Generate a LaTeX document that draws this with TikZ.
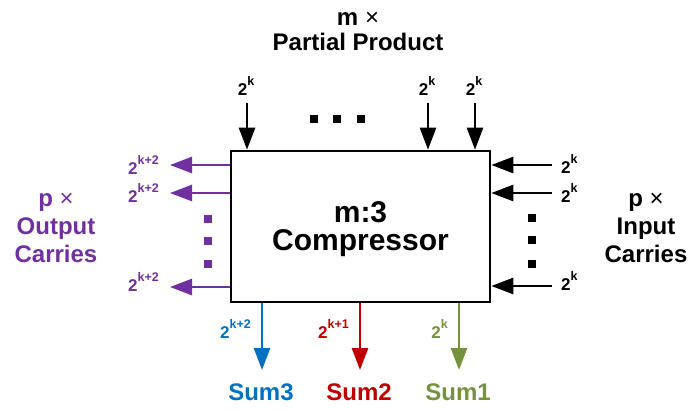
\documentclass[tikz,border=0pt]{standalone}
\usepackage{fontspec}
\setmainfont{Liberation Sans}
\usetikzlibrary{arrows.meta,positioning}
\definecolor{carrypurple}{HTML}{7030A0}
\definecolor{sumblue}{HTML}{0070C0}
\definecolor{sumred}{HTML}{C00000}
\definecolor{sumgreen}{HTML}{76923C}
\newcommand{\pwr}[1]{2\raisebox{9.5pt}{\fontsize{12.5}{12.5}\selectfont #1}}
\tikzset{
  compbox/.style={draw, line width=2.6pt, minimum width=259pt, minimum height=151pt, align=center, text depth=0pt, font=\fontsize{30}{28}\selectfont\bfseries},
  bitarrow/.style={line width=2.6pt, -{Triangle[length=22pt,width=16pt]}},
  powlabel/.style={inner sep=0pt, font=\fontsize{17}{17}\selectfont\bfseries},
  textlabel/.style={inner sep=0pt, align=center, font=\fontsize{24}{28}\selectfont\bfseries},
  dotbox/.style={fill, inner sep=0pt, minimum size=8pt}
}
\begin{document}
\begin{tikzpicture}[x=1pt,y=-1pt]
  \useasboundingbox (0,0) rectangle (692,410);
  \node[compbox] (comp) at (360.5,226.5) {m:3\\Compressor};
  % partial products on top
  \node[textlabel, anchor=base] (pptitle) at (358,50) {m {\mdseries ×}\\[-3pt]Partial Product};
  \foreach \i/\xx in {1/247,2/428,3/475}{
    \coordinate (ppin\i) at (\xx,103);
    \node[powlabel, anchor=base] (pplab\i) at (\xx-1,95) {\pwr{k}};
    \draw[bitarrow] (ppin\i) -- (ppin\i |- comp.north);
  }
  \foreach \xx in {314,337,361}
    \node[dotbox] at (\xx,119) {};
  % input carries, right
  \node[textlabel, anchor=base] (cintitle) at (646,262) {p {\mdseries ×}\\Input\\Carries};
  \foreach \i/\yy/\bb in {1/165/173,2/193/202,3/286/290}{
    \coordinate (cin\i) at (552,\yy);
    \node[powlabel, anchor=base west] (cinlab\i) at (561,\bb) {\pwr{k}};
    \draw[bitarrow] (cin\i) -- (cin\i -| comp.east);
  }
  \foreach \yy in {218,240,264}
    \node[dotbox] at (532,\yy) {};
  % output carries, left
  \node[textlabel, anchor=base, carrypurple] (couttitle) at (56,262) {p {\mdseries ×}\\Output\\Carries};
  \foreach \i/\yy/\bb in {1/165/174,2/193/202,3/287/291}{
    \coordinate (cout\i) at (170,\yy);
    \node[powlabel, anchor=base east, carrypurple] (coutlab\i) at (159,\bb) {\pwr{k+2}};
    \draw[bitarrow, carrypurple] (cout\i -| comp.west) -- (cout\i);
  }
  \foreach \yy in {219,241,264}
    \node[dotbox, carrypurple] at (208,\yy) {};
  % sums at the bottom
  \foreach \i/\xx/\cc/\pp in {3/262/sumblue/k+2,2/360/sumred/k+1,1/459/sumgreen/k}{
    \coordinate (sum\i) at (\xx,370);
    \node[powlabel, anchor=base east, \cc] (sumlab\i) at (\xx-11,338) {\pwr{\pp}};
    \node[textlabel, anchor=base, \cc] (sumname\i) at (\xx-1,400) {Sum\i};
    \draw[bitarrow, \cc] (sum\i |- comp.south) -- (sum\i);
  }
\end{tikzpicture}
\end{document}
